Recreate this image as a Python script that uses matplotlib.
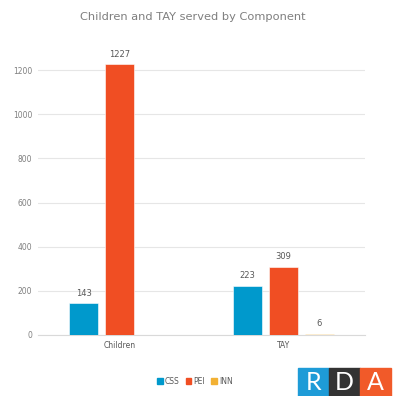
import matplotlib
matplotlib.use("Agg")
import matplotlib.pyplot as plt
import numpy as np
from matplotlib.patches import Rectangle

categories = ["Children", "TAY"]
series_names = ["CSS", "PEI", "INN"]
css = [143, 223]
pei = [1227, 309]
inn = [None, 6]
colors = ["#0099CC", "#F04E23", "#F2B134"]
yticks = [0, 200, 400, 600, 800, 1000, 1200]

W, H = 393, 396
fig = plt.figure(figsize=(W / 100, H / 100), dpi=100)
ax = fig.add_axes([38 / W, 61 / H, 327 / W, 309 / H])

x = np.arange(len(categories))
width = 0.175
offsets = [-0.22, 0.0, 0.22]
grey = "#7f7f7f"
for vals, off, col in zip([css, pei, inn], offsets, colors):
    for xi, v in zip(x, vals):
        if v is None:
            continue
        ax.bar(xi + off, v, width=width, color=col, edgecolor="white", linewidth=0.4, zorder=3)
        ax.text(xi + off, v + 25, f"{v}", ha="center", va="bottom", fontsize=6, color="#595959")

ax.set_xlim(-0.5, 1.5)
ax.set_ylim(0, 1400)
ax.set_yticks(yticks)
ax.set_yticklabels([str(t) for t in yticks], fontsize=5.5, color=grey)
ax.set_xticks(x)
ax.set_xticklabels(categories, fontsize=5.5, color="#595959")
ax.tick_params(length=0, pad=4)
ax.grid(axis="y", color="#e6e6e6", linewidth=0.8, zorder=0)
for s in ["top", "right", "left"]:
    ax.spines[s].set_visible(False)
ax.spines["bottom"].set_color("#d9d9d9")
ax.spines["bottom"].set_linewidth(0.8)

fig.text(193 / W, 1 - 17 / H, "Children and TAY served by Component", ha="center", va="center",
         fontsize=8.2, color=grey)

handles = [Rectangle((0, 0), 1, 1, color=c) for c in colors]
fig.legend(handles, series_names, loc="center", bbox_to_anchor=(195 / W, 1 - 381 / H),
           ncol=3, frameon=False, fontsize=5.5, handlelength=0.7, handleheight=0.7,
           handletextpad=0.3, columnspacing=0.8, labelcolor="#595959")

# RDA logo
logo_cols = ["#1E9BD7", "#333333", "#F15A29"]
for i, (letter, c) in enumerate(zip("RDA", logo_cols)):
    x0 = 298 + i * 31
    fig.patches.append(Rectangle((x0 / W, 0), 31 / W, 28 / H, transform=fig.transFigure,
                                 color=c, zorder=5))
    fig.text((x0 + 15.5) / W, 13 / H, letter, ha="center", va="center", fontsize=18,
             color="white", zorder=6, family="Lato")

fig.savefig("out.png", dpi=100)
